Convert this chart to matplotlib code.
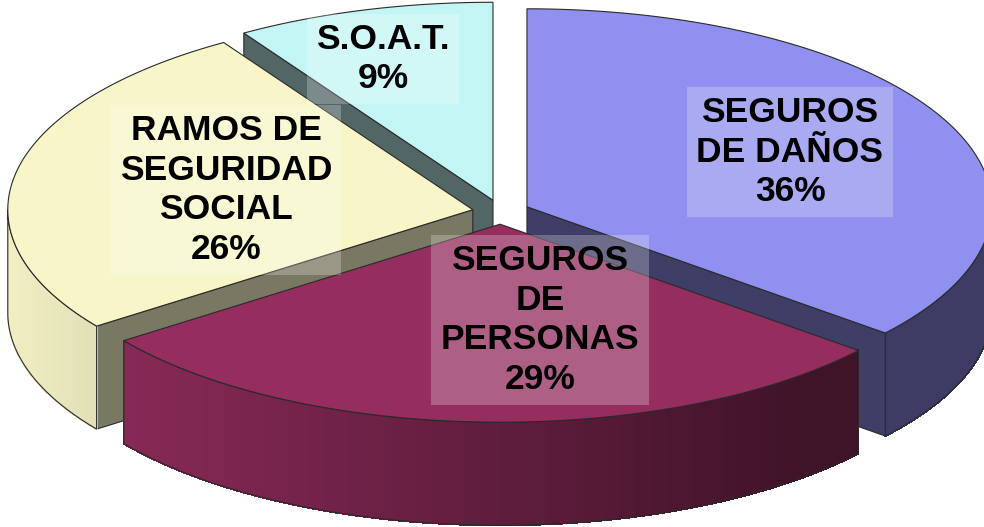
import numpy as np
import matplotlib
matplotlib.use("Agg")
import matplotlib.pyplot as plt
from matplotlib.patches import Polygon
from matplotlib.colors import to_rgb

# Shares of premiums by line of business
categories = ["SEGUROS\nDE DAÑOS", "SEGUROS\nDE\nPERSONAS", "RAMOS DE\nSEGURIDAD\nSOCIAL", "S.O.A.T."]
shares = [36, 29, 26, 9]

# Styling
top_colors = ["#9090F0", "#952D5F", "#F8F6C8", "#C4F5F5"]
label_xy = [(790, 152), (540, 320), (226, 190), (383, 59)]
draw_order = [3, 2, 0, 1]  # back to front

# Pie geometry (pixels)
W, H = 984, 527
cx, cy = 501, 212
rx, ry = 465, 198
depth = 103
explode = 28.7
start_angle = 90.0

fig = plt.figure(figsize=(W / 100, H / 100), dpi=100)
ax = fig.add_axes([0, 0, 1, 1])
ax.set_xlim(0, W)
ax.set_ylim(H, 0)
ax.axis("off")

total = float(sum(shares))
bounds = []
acc = start_angle
for v in shares:
    a0 = acc
    a1 = acc - 360.0 * v / total
    bounds.append((a0, a1))
    acc = a1


def offset(a0, a1):
    mid = np.radians((a0 + a1) / 2)
    return explode * np.cos(mid), -explode * (ry / rx) * np.sin(mid)


def rim(theta, off, z=0.0):
    t = np.radians(theta)
    return cx + off[0] + rx * np.cos(t), cy + off[1] - ry * np.sin(t) + z


def shade(color, f):
    r, g, b = to_rgb(color)
    return (min(r * f, 1), min(g * f, 1), min(b * f, 1))


edge = "#2a2a2a"

for i in draw_order:
    a0, a1 = bounds[i]
    off = offset(a0, a1)
    apex = (cx + off[0], cy + off[1])
    base = top_colors[i]

    # radial walls facing the viewer
    for ang, normal in ((a0, a0 + 90), (a1, a1 - 90)):
        if np.sin(np.radians(normal)) < -1e-6:
            p = rim(ang, off)
            quad = [apex, p, (p[0], p[1] + depth), (apex[0], apex[1] + depth)]
            f = 0.46 + 0.05 * np.cos(np.radians(normal))
            ax.add_patch(Polygon(quad, closed=True, facecolor=shade(base, f),
                                 edgecolor=edge, lw=0.8, zorder=1))

    # curved outer face on the front half, shaded across its width
    hi = min(a0, 0.0)
    lo = max(a1, -180.0)
    if hi > lo:
        th = np.linspace(hi, lo, 160)
        for t0, t1 in zip(th[:-1], th[1:]):
            tm = np.radians((t0 + t1) / 2)
            f = max(0.64 - 0.33 * np.cos(tm), 0.42)
            p0, p1 = rim(t0, off), rim(t1, off)
            quad = [p0, p1, (p1[0], p1[1] + depth), (p0[0], p0[1] + depth)]
            c = shade(base, f)
            ax.add_patch(Polygon(quad, closed=True, facecolor=c, edgecolor=c,
                                 lw=0.8, antialiased=False, zorder=1))
        top_arc = [rim(t, off) for t in th]
        bot_arc = [rim(t, off, depth) for t in th[::-1]]
        ax.add_patch(Polygon(top_arc + bot_arc, closed=True, facecolor="none",
                             edgecolor=edge, lw=0.8, zorder=1))

    # top face
    th = np.linspace(a0, a1, 200)
    poly = [apex] + [rim(t, off) for t in th]
    ax.add_patch(Polygon(poly, closed=True, facecolor=base, edgecolor=edge,
                         lw=0.8, zorder=1))

# labels with category and percentage
for i, (name, v) in enumerate(zip(categories, shares)):
    x, y = label_xy[i]
    ax.text(x, y, f"{name}\n{v}%", ha="center", va="center",
            fontsize=25.5, fontweight="bold", family="Liberation Sans",
            color="black", linespacing=1.25, zorder=5,
            bbox=dict(boxstyle="square,pad=0.26", facecolor=(1, 1, 1, 0.24),
                      edgecolor="none"))

fig.savefig("out.png", dpi=100)
